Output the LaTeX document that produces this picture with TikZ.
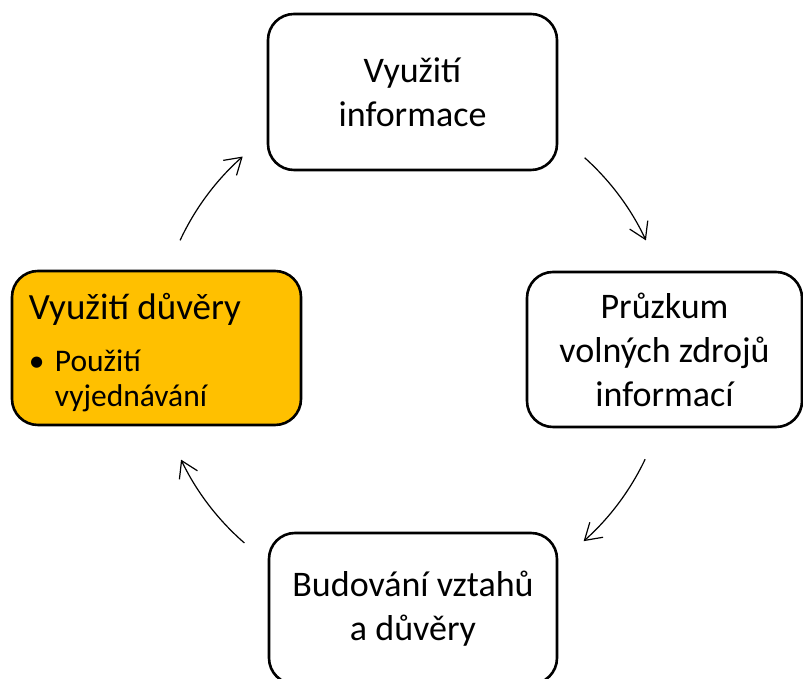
\documentclass[tikz,border=0pt]{standalone}
\usepackage{fontspec}
\setmainfont{Carlito}
\usetikzlibrary{arrows.meta}
\definecolor{amber}{HTML}{FFC000}
\begin{document}
\begin{tikzpicture}[x=1pt,y=1pt,
  stage/.style={draw=black, line width=2.6pt, rounded corners=26pt, fill=white,
    align=center, font=\fontsize{36}{44}\selectfont, inner sep=0pt},
  lefttext/.style={anchor=base west, inner sep=0pt},
  itemfont/.style={font=\fontsize{31.5}{38}\selectfont},
  cyc/.style={line width=1.2pt,
    -{Straight Barb[length=16pt,width=20pt,line width=1.2pt]}}]
\useasboundingbox (0,0) rectangle (803,679);

% the four stages of the cycle
\node[stage, minimum width=289pt, minimum height=156pt] (use) at (412.5,587)
  {Využití\\informace};
\node[stage, minimum width=275pt, minimum height=155pt] (survey) at (664.5,329.5)
  {Průzkum\\volných zdrojů\\informací};
\node[stage, minimum width=288pt, minimum height=151pt] (build) at (413,70.5)
  {Budování vztahů\\a důvěry};
\node[stage, fill=amber, minimum width=289pt, minimum height=154pt] (trust) at (156.5,331) {};

% text of the highlighted stage
\node[lefttext, font=\fontsize{37}{45}\selectfont] (trusttitle)
  at ([shift={(18pt,-50pt)}]trust.north west) {Využití důvěry};
\node[lefttext, itemfont] (trustbullet)
  at ([shift={(18pt,-102pt)}]trust.north west) {•};
\node[lefttext, itemfont] (trustitem)
  at ([shift={(44pt,-102pt)}]trust.north west) {Použití};
\node[lefttext, itemfont] (trustitemb)
  at ([shift={(44pt,-137pt)}]trust.north west) {vyjednávání};

% curved arrows running clockwise round the cycle
\coordinate (hub) at (413,330);
\draw[cyc] ([shift={(155:257pt)}]hub) arc[start angle=155, end angle=131.5, radius=257pt];
\draw[cyc] ([shift={(48.1:257pt)}]hub) arc[start angle=48.1, end angle=25, radius=257pt];
\draw[cyc] ([shift={(-25.4:257pt)}]hub) arc[start angle=-25.4, end angle=-48.4, radius=257pt];
\draw[cyc] ([shift={(-131:257pt)}]hub) arc[start angle=-131, end angle=-154.5, radius=257pt];
\end{tikzpicture}
\end{document}
